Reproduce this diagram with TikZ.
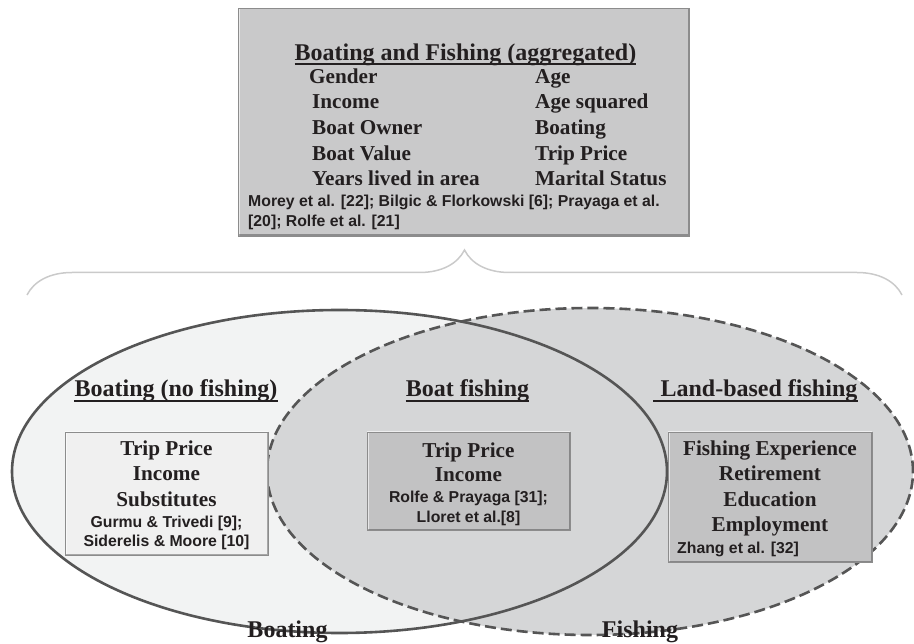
\documentclass[tikz,border=0pt]{standalone}
\usepackage{fontspec}
\setmainfont{Liberation Serif}
\setsansfont{Liberation Sans}
\usetikzlibrary{positioning}
\usetikzlibrary{decorations.pathreplacing}
\definecolor{inkgray}{HTML}{231F20}
\definecolor{rimgray}{HTML}{555555}
\definecolor{boatfill}{HTML}{F2F3F3}
\definecolor{fishfill}{HTML}{D5D6D7}
\definecolor{aggfill}{HTML}{C9C9CA}
\definecolor{boxlight}{HTML}{F0F0F0}
\definecolor{boxdark}{HTML}{C2C2C3}
\definecolor{bracegray}{HTML}{CACACA}
\tikzset{
   panel/.style={rectangle, inner sep=0pt, fill=#1, draw=black!45, line width=0.8pt,
      path picture={
         \draw[white, opacity=0.6, line width=3pt]
         (path picture bounding box.south west) |- (path picture bounding box.north east);
         \draw[black, opacity=0.3, line width=3pt]
         (path picture bounding box.south west) -| (path picture bounding box.north east);
   }},
   headtxt/.style={font=\bfseries\fontsize{24}{28}\selectfont, text=inkgray, inner sep=0pt, anchor=base},
   itemtxt/.style={font=\bfseries\fontsize{21.2}{25}\selectfont, text=inkgray, inner sep=0pt, anchor=base},
   reftxt/.style={font=\sffamily\bfseries\fontsize{15.8}{18}\selectfont, text=inkgray, inner sep=0pt, anchor=base},
   ulline/.style={draw=inkgray, line width=2.4pt},
}

\begin{document}
\begin{tikzpicture}[x=1pt, y={(0,-1pt)}]
   \useasboundingbox (0,0) rectangle (914,644);

   % aggregated panel
   \node[panel=aggfill, minimum width=451pt, minimum height=228pt] (agg) at (463.5,122) {};
   \node[headtxt] (aggtitle) at (465.5,61) {Boating and Fishing (aggregated)};
   \draw[ulline] ([yshift=-3pt]aggtitle.base west) -- ([yshift=-3pt]aggtitle.base east);

   \node[itemtxt, anchor=base west] (gender) at (309,84)  {Gender};
   \node[itemtxt, anchor=base west] (income) at (312,109) {Income};
   \node[itemtxt, anchor=base west] (owner)  at (312,135) {Boat Owner};
   \node[itemtxt, anchor=base west] (value)  at (312,161) {Boat Value};
   \node[itemtxt, anchor=base west] (years)  at (312,186) {Years lived in area};

   \node[itemtxt, anchor=base west] (age)     at (535,84)  {Age};
   \node[itemtxt, anchor=base west] (agesq)   at (535,109) {Age squared};
   \node[itemtxt, anchor=base west] (boating) at (535,135) {Boating};
   \node[itemtxt, anchor=base west] (price)   at (535,161) {Trip Price};
   \node[itemtxt, anchor=base west] (marital) at (535,186) {Marital Status};

   \node[reftxt, anchor=base west] (aggref1) at (248,207) {Morey et al. [22]; Bilgic \& Florkowski [6]; Prayaga et al.};
   \node[reftxt, anchor=base west] (aggref2) at (248,227) {[20]; Rolfe et al. [21]};

   % brace
   \coordinate (braceL) at (27,295);
   \coordinate (braceR) at (902,295);
   \draw[bracegray, line width=1.5pt, decoration={brace, amplitude=45pt}, decorate]
   (braceL) -- (braceR);

   % the two sets
   \path[fill=boatfill] (339.5,471.5) ellipse [x radius=327.5pt, y radius=161.5pt];
   \path[fill=fishfill] (590,471.5) ellipse [x radius=323pt, y radius=163.5pt];
   \draw[rimgray, line width=2.6pt] (339.5,471.5) ellipse [x radius=327.5pt, y radius=161.5pt];
   \draw[rimgray, line width=2.6pt, dash pattern=on 11pt off 5pt]
   (590,471.5) ellipse [x radius=323pt, y radius=163.5pt];

   % set headings
   \node[headtxt] (boathead) at (176,397) {Boating (no fishing)};
   \node[headtxt] (bothhead) at (467.5,397) {Boat fishing};
   \node[headtxt] (landhead) at (759,397) {Land-based fishing};
   \draw[ulline] ([yshift=-4pt]boathead.base west) -- ([yshift=-4pt]boathead.base east);
   \draw[ulline] ([yshift=-4pt]bothhead.base west) -- ([yshift=-4pt]bothhead.base east);
   \draw[ulline] ([xshift=-7pt,yshift=-4pt]landhead.base west) -- ([yshift=-4pt]landhead.base east);

   % boating only
   \node[panel=boxlight, minimum width=203pt, minimum height=123pt] (boatbox) at (166.5,493.5) {};
   \node[itemtxt] (boat1) at (166.5,456) {Trip Price};
   \node[itemtxt] (boat2) at (166.5,481) {Income};
   \node[itemtxt] (boat3) at (166.5,507) {Substitutes};
   \node[reftxt]  (boat4) at (166.5,527) {Gurmu \& Trivedi [9];};
   \node[reftxt]  (boat5) at (166.5,547) {Siderelis \& Moore [10]};

   % boat fishing
   \node[panel=boxdark, minimum width=203pt, minimum height=98pt] (bothbox) at (468.5,481) {};
   \node[itemtxt] (both1) at (468.5,457) {Trip Price};
   \node[itemtxt] (both2) at (468.5,482) {Income};
   \node[reftxt]  (both3) at (468.5,503) {Rolfe \& Prayaga [31];};
   \node[reftxt]  (both4) at (468.5,522) {Lloret et al.[8]};

   % land-based fishing
   \node[panel=boxdark, minimum width=204pt, minimum height=130pt] (landbox) at (770,497) {};
   \node[itemtxt] (land1) at (770,456) {Fishing Experience};
   \node[itemtxt] (land2) at (770,481) {Retirement};
   \node[itemtxt] (land3) at (770,507) {Education};
   \node[itemtxt] (land4) at (770,532) {Employment};
   \node[reftxt, anchor=base west] (land5) at (677,553) {Zhang et al. [32]};

   % set names
   \node[headtxt] (boatname) at (287.5,637) {Boating};
   \node[headtxt] (fishname) at (640,637) {Fishing};
\end{tikzpicture}
\end{document}
